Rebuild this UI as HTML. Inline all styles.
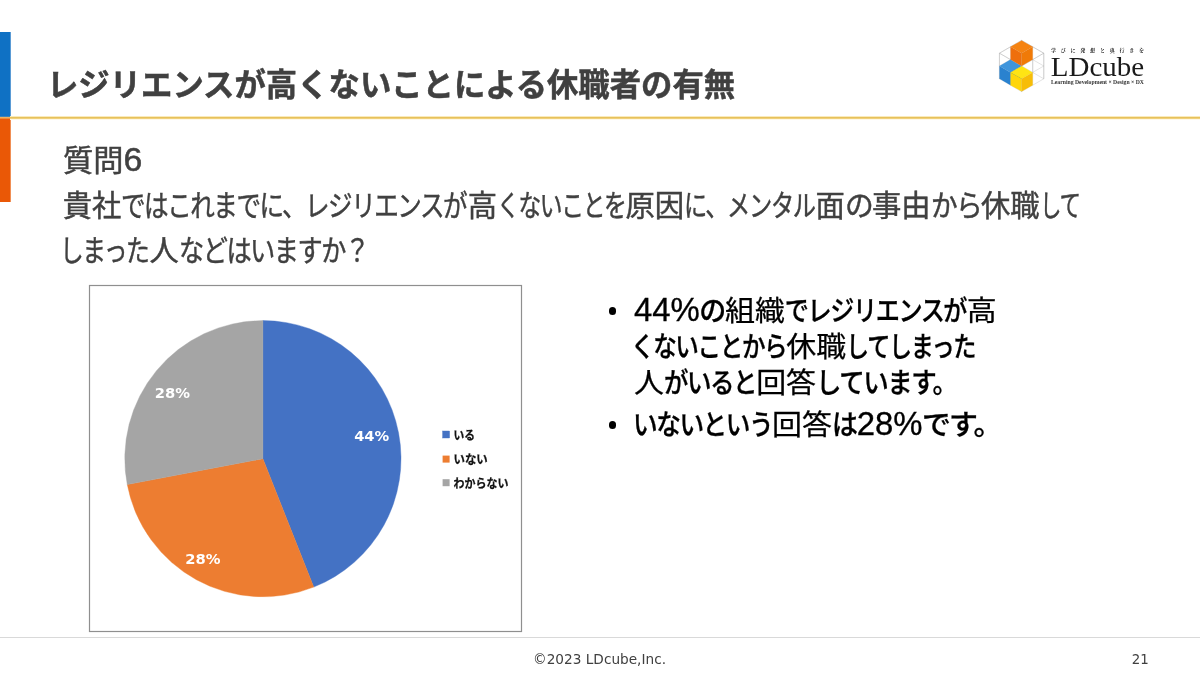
<!DOCTYPE html>
<html lang="ja"><head><meta charset="utf-8"><title>レジリエンスが高くないことによる休職者の有無</title>
<style>
html,body{margin:0;padding:0;background:#fff;}
body{width:1200px;height:675px;position:relative;overflow:hidden;font-family:"Liberation Sans","Noto Sans CJK JP",sans-serif;color:#000;}
.abs{position:absolute;}
.ln{position:absolute;white-space:nowrap;line-height:1.4;}
.ln .sx{display:inline-block;transform-origin:0 50%;}
.b{font-weight:700;}
.g{color:#404040;}
.k{display:inline-block;transform-origin:0 50%;white-space:nowrap;}
.m{font-weight:500;}
.st{-webkit-text-stroke:0.45px #404040;}
.stb{-webkit-text-stroke:0.3px #000;}
.stb .j{font-weight:400;-webkit-text-stroke:0.25px #000;}
.stb .l{-webkit-text-stroke:0.35px #000;}
.st .l{-webkit-text-stroke:0.5px #404040;}
.lk{display:inline-block;transform-origin:0 50%;white-space:nowrap;}
.stt{-webkit-text-stroke:0.5px #404040;}
.l{font-family:"Liberation Sans",sans-serif;line-height:1;}
</style></head><body>
<div class="abs" style="left:0;top:32px;width:10px;height:85px;background:#0f71c4;"></div>
<div class="abs" style="left:0;top:117px;width:10px;height:85px;background:#ea5806;"></div>
<div class="abs" style="left:10px;top:32px;width:1px;height:84px;background:#5a9bd5;"></div>
<div class="abs" style="left:10px;top:120px;width:1px;height:82px;background:#f08f55;"></div>
<div class="abs" style="left:0;top:116px;width:1200px;height:1px;background:#faeabb;"></div>
<div class="abs" style="left:0;top:117px;width:1200px;height:1px;background:#e6c15c;"></div>
<div class="abs" style="left:0;top:118px;width:1200px;height:1px;background:#f0d07a;"></div>
<div class="abs" style="left:0;top:119px;width:1200px;height:1px;background:#fef8e6;"></div>
<div class="abs" style="left:0;top:116px;width:10px;height:1px;background:#3f83b8;"></div>
<div class="abs" style="left:0;top:117px;width:10px;height:1px;background:#f0b060;"></div>
<div class="abs" style="left:0;top:118px;width:10px;height:1px;background:#ee8a3a;"></div>
<div class="abs" style="left:0;top:119px;width:10px;height:1px;background:#ea5806;"></div>
<div class="abs" style="left:0;top:637px;width:1200px;height:1px;background:#d9d9d9;"></div>
<div class="ln b g stt" id="title" style="left:46.5px;top:62.5px;font-size:32px;"><span class="sx" style="transform:scaleX(0.9796)"><span id="title_r0">レジリエンスが</span><span id="title_r1" class="j">高</span><span id="title_r2">くないことによる</span><span id="title_r3" class="j">休職者</span><span id="title_r4">の</span><span id="title_r5" class="j">有無</span></span></div>
<div class="ln g st" id="q1" style="left:62.7px;top:140.3px;font-size:29.33px;"><span class="sx" style="transform:scaleX(1.03)"><span id="q1_r0" class="j">質問</span><span id="q1_r1" class="l lk" style="font-size:1.12em;width:0.5560em;transform:scaleX(1)">6</span></span></div>
<div class="ln g st" id="q2" style="left:62.7px;top:185px;font-size:29.33px;"><span class="sx" style="transform:scaleX(1)"><span id="q2_r0" class="j">貴社</span><span id="q2_r1" class="k" style="width:11.8108em;letter-spacing:-0.06em;transform:scaleX(0.8376)">ではこれまでに、レジリエンスが</span><span id="q2_r2" class="j">高</span><span id="q2_r3" class="k" style="width:4.3805em;letter-spacing:-0.06em;transform:scaleX(0.7767)">くないことを</span><span id="q2_r4" class="j">原因</span><span id="q2_r5" class="k" style="width:4.4797em;letter-spacing:-0.06em;transform:scaleX(0.7943)">に、メンタル</span><span id="q2_r6" class="j">面</span><span id="q2_r7" class="k" style="width:0.9229em;letter-spacing:-0.06em;transform:scaleX(0.9819)">の</span><span id="q2_r8" class="j">事由</span><span id="q2_r9" class="k" style="width:1.7133em;letter-spacing:-0.06em;transform:scaleX(0.9113)">から</span><span id="q2_r10" class="j">休職</span><span id="q2_r11" class="k" style="width:1.3756em;letter-spacing:-0.06em;transform:scaleX(0.7317)">して</span></span></div>
<div class="ln g st" id="q3" style="left:60.0px;top:230px;font-size:29.33px;"><span class="sx" style="transform:scaleX(1)"><span id="q3_r0" class="k" style="width:3.0474em;letter-spacing:-0.06em;transform:scaleX(0.8105)">しまった</span><span id="q3_r1" class="j">人</span><span id="q3_r2" class="k" style="width:6.4627em;letter-spacing:-0.06em;transform:scaleX(0.8594)">などはいますか？</span></span></div>
<div class="ln m stb" id="b1" style="left:634.2px;top:292px;font-size:28px;"><span class="sx" style="transform:scaleX(1.07)"><span id="b1_r0" class="l lk" style="font-size:1.18em;width:1.8609em;transform:scaleX(0.93)">44%</span><span id="b1_r1" class="k" style="width:0.8458em;letter-spacing:-0.06em;transform:scaleX(0.8998)">の</span><span id="b1_r2" class="j">組織</span><span id="b1_r3" class="k" style="width:6.0641em;letter-spacing:-0.06em;transform:scaleX(0.8064)">でレジリエンスが</span><span id="b1_r4" class="j">高</span></span></div>
<div class="ln m stb" id="b2" style="left:631.0px;top:327.7px;font-size:28px;"><span class="sx" style="transform:scaleX(1.07)"><span id="b2_r0" class="k" style="width:5.1812em;letter-spacing:-0.06em;transform:scaleX(0.7874)">くないことから</span><span id="b2_r1" class="j">休職</span><span id="b2_r2" class="k" style="width:4.3586em;letter-spacing:-0.06em;transform:scaleX(0.7728)">してしまった</span></span></div>
<div class="ln m stb" id="b3" style="left:633.5px;top:364.1px;font-size:28px;"><span class="sx" style="transform:scaleX(1.07)"><span id="b3_r0" class="j">人</span><span id="b3_r1" class="k" style="width:3.0764em;letter-spacing:-0.06em;transform:scaleX(0.8182)">がいると</span><span id="b3_r2" class="j">回答</span><span id="b3_r3" class="k" style="width:4.8075em;letter-spacing:-0.06em;transform:scaleX(0.8524)">しています。</span></span></div>
<div class="ln m stb" id="b4" style="left:633.0px;top:406px;font-size:28px;"><span class="sx" style="transform:scaleX(1.07)"><span id="b4_r0" class="k" style="width:4.6439em;letter-spacing:-0.06em;transform:scaleX(0.8234)">いないという</span><span id="b4_r1" class="j">回答</span><span id="b4_r2" class="k" style="width:0.8148em;letter-spacing:-0.06em;transform:scaleX(0.8668)">は</span><span id="b4_r3" class="l lk" style="font-size:1.18em;width:1.8609em;transform:scaleX(0.93)">28%</span><span id="b4_r4" class="k" style="width:2.7244em;letter-spacing:-0.06em;transform:scaleX(0.9661)">です。</span></span></div>

<div class="abs" style="left:608.5px;top:307.4px;width:7.6px;height:7.6px;border-radius:50%;background:#000;"></div>
<div class="abs" style="left:608.5px;top:421px;width:7.6px;height:7.6px;border-radius:50%;background:#000;"></div>
<svg class="abs" style="left:0;top:0" width="1200" height="675" viewBox="0 0 1200 675">
<rect x="89.5" y="285.5" width="432" height="346" fill="#fff" stroke="#8f8f8f" stroke-width="1.2"/>
<path d="M262.9 458.7 L262.90 320.60 A138.1 138.1 0 0 1 313.74 587.10 Z" fill="#4472c4" stroke="#4472c4" stroke-width="0.4"/>
<path d="M262.9 458.7 L313.74 587.10 A138.1 138.1 0 0 1 127.25 484.58 Z" fill="#ed7d31" stroke="#ed7d31" stroke-width="0.4"/>
<path d="M262.9 458.7 L127.25 484.58 A138.1 138.1 0 0 1 262.90 320.60 Z" fill="#a5a5a5" stroke="#a5a5a5" stroke-width="0.4"/>
<g font-family="'DejaVu Sans','Liberation Sans',sans-serif" font-weight="700" font-size="13.9" fill="#fff">
<text x="354.2" y="440.9" textLength="35" lengthAdjust="spacingAndGlyphs">44%</text>
<text x="154.8" y="398.1" textLength="35.2" lengthAdjust="spacingAndGlyphs">28%</text>
<text x="185.2" y="564.1" textLength="35.2" lengthAdjust="spacingAndGlyphs">28%</text>
</g>
<rect x="442.6" y="431" width="7" height="7" fill="#4472c4" stroke="#4472c4" stroke-width="0.4"/>
<rect x="442.6" y="455.6" width="7" height="7" fill="#ed7d31"/>
<rect x="442.6" y="479.2" width="7" height="7" fill="#a5a5a5"/>
<g font-family="'Liberation Sans','Noto Sans CJK JP',sans-serif" font-weight="700" font-size="12.5" fill="#111" stroke="#111" stroke-width="0.25">
<text x="453.5" y="439.6" textLength="21.5" lengthAdjust="spacingAndGlyphs">いる</text>
<text x="453.5" y="464" textLength="34.3" lengthAdjust="spacingAndGlyphs">いない</text>
<text x="453.5" y="487.7" textLength="55" lengthAdjust="spacingAndGlyphs">わからない</text>
</g>
</svg>
<svg class="abs" style="left:0;top:0" width="1200" height="675" viewBox="0 0 1200 675">
<defs><linearGradient id="go" x1="0" y1="0" x2="1" y2="1"><stop offset="0" stop-color="#f58a1c"/><stop offset="1" stop-color="#ec6a05"/></linearGradient><linearGradient id="gb" x1="0" y1="0" x2="1" y2="1"><stop offset="0" stop-color="#4a9be0"/><stop offset="1" stop-color="#1c74c4"/></linearGradient><linearGradient id="gy" x1="0" y1="0" x2="1" y2="1"><stop offset="0" stop-color="#ffe81a"/><stop offset="1" stop-color="#fbc40a"/></linearGradient></defs>
<path d="M1021.60 40.40 L999.43 53.20 M1021.60 40.40 L1043.77 53.20 M999.43 78.80 L999.43 53.20 M999.43 78.80 L1021.60 91.60 M1043.77 78.80 L1043.77 53.20 M1043.77 78.80 L1021.60 91.60 M1021.60 66.00 L1021.60 40.40 M1021.60 66.00 L1043.77 78.80 M1021.60 66.00 L1021.60 40.40 M1021.60 66.00 L999.43 78.80 M1032.69 46.80 L1010.51 59.60 M1010.51 46.80 L1032.69 59.60 M1010.51 85.20 L1010.51 59.60 M999.43 66.00 L1021.60 78.80 M1032.69 85.20 L1032.69 59.60 M1043.77 66.00 L1021.60 78.80 M1032.69 72.40 L1032.69 46.80 M1021.60 53.20 L1043.77 66.00 M1010.51 72.40 L1010.51 46.80 M1021.60 53.20 L999.43 66.00 M1043.77 53.20 L1021.60 66.00 M999.43 53.20 L1021.60 66.00 M1021.60 91.60 L1021.60 66.00 M999.43 53.20 L1021.60 66.00 M1021.60 91.60 L1021.60 66.00 M1043.77 53.20 L1021.60 66.00 M1043.77 78.80 L1043.77 53.20 M1021.60 40.40 L1043.77 53.20 M999.43 78.80 L999.43 53.20 M1021.60 40.40 L999.43 53.20" stroke="#a0a0a0" stroke-width="0.3" fill="none"/>
<polygon points="1010.51,59.60 1021.60,66.00 1010.51,72.40 999.43,66.00" fill="#3f95dc" /><polygon points="999.43,66.00 1010.51,72.40 1010.51,85.20 999.43,78.80" fill="#2a82cf" /><polygon points="1021.60,66.00 1010.51,72.40 1010.51,85.20 1021.60,78.80" fill="#1c72bf" />
<polygon points="1021.60,40.40 1032.69,46.80 1021.60,53.20 1010.51,46.80" fill="#f58312" /><polygon points="1010.51,46.80 1021.60,53.20 1021.60,66.00 1010.51,59.60" fill="#ee6f0c" /><polygon points="1032.69,46.80 1021.60,53.20 1021.60,66.00 1032.69,59.60" fill="#f07a08" />
<polygon points="1021.60,66.00 1032.69,72.40 1021.60,78.80 1010.51,72.40" fill="#ffe414" /><polygon points="1010.51,72.40 1021.60,78.80 1021.60,91.60 1010.51,85.20" fill="#ffd60a" /><polygon points="1032.69,72.40 1021.60,78.80 1021.60,91.60 1032.69,85.20" fill="#f7bd08" />
<text x="1050.8" y="75.8" font-family="'Liberation Serif',serif" font-size="26.4" fill="#1a1a1a" textLength="93.4" lengthAdjust="spacingAndGlyphs">LDcube</text>
<text x="1051" y="51.8" font-family="'Liberation Serif','Noto Serif CJK SC',serif" font-size="5" font-weight="700" fill="#222" textLength="93" lengthAdjust="spacing">学びに発想と奥行きを</text>
<text x="1051" y="83.8" font-family="'Liberation Serif',serif" font-weight="700" font-size="5.6" fill="#333" textLength="93" lengthAdjust="spacingAndGlyphs">Learning Development × Design × DX</text>
</svg>
<svg class="abs" style="left:0;top:640px" width="1200" height="35" viewBox="0 640 1200 35"><g font-family="'DejaVu Sans','Liberation Sans',sans-serif" font-size="14.3" fill="#404040">
<text id="foot" x="533" y="663.7" textLength="133" lengthAdjust="spacingAndGlyphs">©2023 LDcube,Inc.</text>
<text id="pg" x="1131.8" y="663.7" textLength="17" lengthAdjust="spacingAndGlyphs">21</text>
</g></svg>
</body></html>
